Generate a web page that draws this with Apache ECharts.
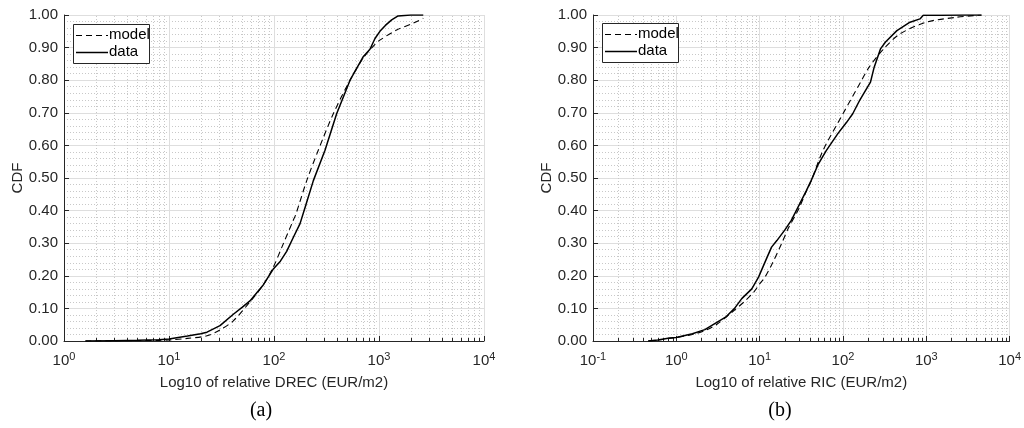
<!DOCTYPE html>
<html>
<head>
<meta charset="utf-8">
<script src="https://cdn.jsdelivr.net/npm/echarts@6/dist/echarts.min.js"></script>
<style>
html,body{margin:0;padding:0;background:#fff;}
#c{width:1024px;height:428px;}
</style>
</head>
<body>
<div id="c"></div>
<script>
// ---- Data ----
const yTickLabels = ['0.00','0.10','0.20','0.30','0.40','0.50','0.60','0.70','0.80','0.90','1.00'];
const legendNames = ['model', 'data'];

// (a) relative DREC
const drecDataX  = [1.6, 3, 5, 8, 10, 15, 20, 23, 30.6, 41, 50, 59, 79, 98, 115, 132, 155, 177, 200, 237, 306, 395, 530, 708, 820, 916, 1020, 1150, 1320, 1520, 2000, 2640];
const drecDataY  = [0, 0.001, 0.002, 0.004, 0.006, 0.015, 0.022, 0.027, 0.047, 0.082, 0.104, 0.123, 0.172, 0.22, 0.245, 0.275, 0.322, 0.36, 0.415, 0.492, 0.585, 0.697, 0.80, 0.872, 0.895, 0.928, 0.95, 0.968, 0.985, 0.997, 1.0, 1.0];
const drecModelX = [1.6, 3, 5, 8, 10, 15, 23, 30.6, 41, 59, 79, 98, 120, 152, 162, 205, 264, 367, 530, 708, 916, 1020, 1473, 2124, 2640];
const drecModelY = [0, 0.0005, 0.001, 0.002, 0.003, 0.008, 0.016, 0.034, 0.062, 0.12, 0.172, 0.225, 0.291, 0.369, 0.39, 0.492, 0.585, 0.697, 0.80, 0.868, 0.91, 0.923, 0.954, 0.975, 0.99];

// (b) relative RIC
const ricDataX  = [0.46, 0.6, 0.83, 1.0, 1.56, 2.2, 3.1, 3.9, 5.0, 6.1, 8.05, 9.7, 12.2, 13.9, 16.1, 20, 24, 28.8, 36.5, 41.5, 50, 63, 86.8, 110, 131, 160, 197, 214, 237, 282, 324, 444, 638, 840, 920, 1500, 3000, 4600];
const ricDataY  = [0, 0.003, 0.009, 0.011, 0.022, 0.035, 0.058, 0.073, 0.1, 0.13, 0.16, 0.196, 0.255, 0.288, 0.308, 0.34, 0.37, 0.41, 0.462, 0.492, 0.54, 0.584, 0.636, 0.67, 0.697, 0.74, 0.779, 0.794, 0.84, 0.896, 0.917, 0.952, 0.978, 0.988, 0.999, 0.999, 1.0, 1.0];
const ricModelX = [0.46, 0.6, 0.83, 1.0, 1.56, 2.2, 3.1, 5.0, 6.5, 8.5, 10, 11.6, 14, 18.3, 22, 28.8, 36.5, 41.7, 57.5, 100, 163, 206, 308, 484, 1000, 2290, 4600];
const ricModelY = [0, 0.003, 0.008, 0.011, 0.02, 0.032, 0.052, 0.095, 0.12, 0.15, 0.175, 0.196, 0.235, 0.298, 0.345, 0.40, 0.46, 0.492, 0.584, 0.697, 0.794, 0.84, 0.896, 0.942, 0.978, 0.993, 1.0];

const labelsA = {x: 'Log10 of relative DREC (EUR/m2)', y: 'CDF', panel: '(a)'};
const labelsB = {x: 'Log10 of relative RIC (EUR/m2)', y: 'CDF', panel: '(b)'};
const xRangeA = [1, 10000];
const xRangeB = [0.1, 10000];

// ---- helpers ----
function pairs(xs, ys){ return xs.map((x,i)=>[x, ys[i]]); }
function minorValues(range){
  const out = [];
  for (let d = range[0]; d < range[1]; d *= 10) {
    for (let k = 2; k <= 9; k++) out.push([+(d*k).toPrecision(6), 0]);
  }
  return out;
}
const FONT = '"Liberation Sans", Arial, sans-serif';
const AX = '#262626';
const DASH = [6,4];

function xAxisCfg(gi, range, name){
  return {
    type:'log', logBase:10, gridIndex:gi, min:range[0], max:range[1],
    name:name, nameLocation:'middle', nameGap:34,
    nameTextStyle:{fontFamily:FONT, fontSize:15, color:AX},
    axisLine:{show:true, onZero:false, lineStyle:{color:AX, width:1}},
    axisTick:{show:true, inside:true, length:5, lineStyle:{color:AX}},
    splitLine:{show:true, lineStyle:{color:'#dedede', width:1}},
    axisLabel:{
      margin:10, color:AX, fontFamily:FONT, fontSize:15,
      formatter:function(v){ const e = Math.round(Math.log10(v)); return '10{sup|' + e + '}'; },
      rich:{sup:{fontSize:11, fontFamily:FONT, color:AX, verticalAlign:'bottom', padding:[0,0,9,0]}}
    }
  };
}
function yAxisCfg(gi, name){
  return {
    type:'value', gridIndex:gi, min:0, max:1, interval:0.1,
    name:name, nameLocation:'middle', nameGap:38, nameRotate:90,
    nameTextStyle:{fontFamily:FONT, fontSize:15, color:AX},
    axisLine:{show:true, lineStyle:{color:AX, width:1}},
    axisTick:{show:true, inside:true, length:5, lineStyle:{color:AX}},
    minorTick:{show:false, splitNumber:5},
    splitLine:{show:true, lineStyle:{color:'#dedede', width:1}},
    minorSplitLine:{show:true, lineStyle:{color:'#c8c8c8', width:1, type:[1,2]}},
    axisLabel:{margin:6, color:AX, fontFamily:FONT, fontSize:15,
      formatter:function(v){ return yTickLabels[Math.round(v*10)]; }}
  };
}
function minorSeries(gi, range){
  return {
    type:'custom', xAxisIndex:gi, yAxisIndex:gi, silent:true, z:1,
    data:minorValues(range),
    renderItem:function(params, api){
      const v = api.value(0);
      const p0 = api.coord([v, 0]);
      const p1 = api.coord([v, 1]);
      const x = Math.round(p0[0]) + 0.5;
      return {type:'group', children:[
        {type:'line', shape:{x1:x, y1:p0[1], x2:x, y2:p1[1]}, style:{stroke:'#c8c8c8', lineWidth:1, lineDash:[1,2]}},
        {type:'line', shape:{x1:x, y1:p0[1], x2:x, y2:p0[1]-3}, style:{stroke:AX, lineWidth:1}}
      ]};
    }
  };
}
function lineSeries(gi, name, xs, ys, dashed){
  return {
    type:'line', name:name, xAxisIndex:gi, yAxisIndex:gi, data:pairs(xs, ys),
    symbol:'none', showSymbol:false, smooth:dashed ? 0.3 : false, z:3,
    lineStyle:{color:'#000', width:dashed ? 1.1 : 1.5, type:dashed ? DASH : 'solid'},
    itemStyle:{color:'#000'}
  };
}
// legend box drawn as graphic (line-only keys, like the reference)
function legendGraphic(x0, y0){
  const w = 76, h = 39, Z = 200;
  return {
    type:'group', x:x0, y:y0, z:Z, zlevel:1,
    children:[
      {type:'rect', z:Z, zlevel:1, shape:{x:0.5, y:0.5, width:w, height:h}, style:{fill:'#ffffff', stroke:AX, lineWidth:1}},
      {type:'line', z:Z+1, zlevel:1, shape:{x1:3, y1:11.5, x2:35, y2:11.5}, style:{stroke:'#000', lineWidth:1.1, lineDash:DASH}},
      {type:'text', z:Z+1, zlevel:1, x:36, y:11, style:{text:legendNames[0], font:'15px ' + FONT, fill:'#000', textVerticalAlign:'middle'}},
      {type:'line', z:Z+1, zlevel:1, shape:{x1:3, y1:28.5, x2:35, y2:28.5}, style:{stroke:'#000', lineWidth:1.5}},
      {type:'text', z:Z+1, zlevel:1, x:36, y:28, style:{text:legendNames[1], font:'15px ' + FONT, fill:'#000', textVerticalAlign:'middle'}}
    ]
  };
}

const chart = echarts.init(document.getElementById('c'), null, {renderer:'canvas'});
chart.setOption({
  animation:false,
  backgroundColor:'#fff',
  grid:[
    {left:64, right:540, top:15, bottom:87, containLabel:false},
    {left:593, right:10, top:15, bottom:87, containLabel:false}
  ],
  xAxis:[xAxisCfg(0, xRangeA, labelsA.x), xAxisCfg(1, xRangeB, labelsB.x)],
  yAxis:[yAxisCfg(0, labelsA.y), yAxisCfg(1, labelsB.y)],
  graphic:{elements:[
    legendGraphic(73, 24),
    legendGraphic(602, 23),
    {type:'text', x:261, y:411, style:{text:labelsA.panel, font:'20px "Liberation Serif", "Times New Roman", serif', fill:'#000', textAlign:'center', textVerticalAlign:'middle'}},
    {type:'text', x:780, y:411, style:{text:labelsB.panel, font:'20px "Liberation Serif", "Times New Roman", serif', fill:'#000', textAlign:'center', textVerticalAlign:'middle'}}
  ]},
  series:[
    minorSeries(0, xRangeA),
    minorSeries(1, xRangeB),
    lineSeries(0, 'model', drecModelX, drecModelY, true),
    lineSeries(0, 'data', drecDataX, drecDataY, false),
    lineSeries(1, 'model', ricModelX, ricModelY, true),
    lineSeries(1, 'data', ricDataX, ricDataY, false)
  ]
});
</script>
</body>
</html>
